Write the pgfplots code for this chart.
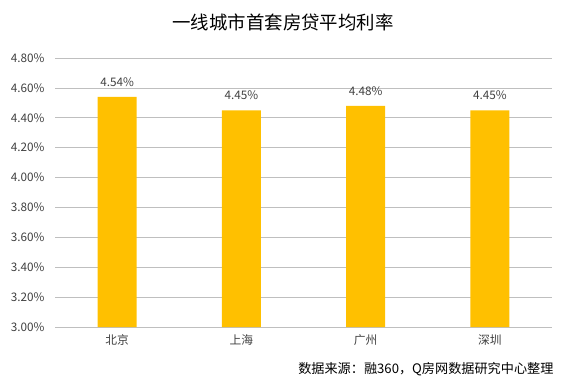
\documentclass[border=0pt]{standalone}
\usepackage{pgfplots}
\pgfplotsset{compat=1.18}
\usepackage{fontspec}
\setmainfont{Noto Sans CJK SC}
\definecolor{bar}{HTML}{FFC000}
\definecolor{grid}{HTML}{D9D9D9}
\definecolor{txt}{HTML}{404040}
\begin{document}
\begin{tikzpicture}
\path[use as bounding box] (0,0) rectangle (566bp,384bp);
\begin{axis}[
  at={(55bp,57bp)}, anchor=south west,
  scale only axis, width=497bp, height=269bp,
  xmin=-0.5, xmax=3.5, ymin=3, ymax=4.8,
  xtick={0,1,2,3}, xticklabels={北京,上海,广州,深圳},
  ytick={3,3.2,3.4,3.6,3.8,4.0,4.2,4.4,4.6,4.8},
  yticklabels={3.00\%,3.20\%,3.40\%,3.60\%,3.80\%,4.00\%,4.20\%,4.40\%,4.60\%,4.80\%},
  ymajorgrids, xmajorgrids=false, grid style={grid, line width=0.75pt},
  axis line style={draw=none},
  tick style={draw=none},
  major tick length=0pt,
  tick label style={font=\fontsize{11.8}{13}\selectfont, text=txt},
  yticklabel style={xshift=-7bp},
  xticklabel style={yshift=-4bp},
  ybar, bar width=39bp,
  nodes near coords, point meta=explicit symbolic,
  every node near coord/.append style={font=\fontsize{11.8}{13}\selectfont, text=txt, yshift=7bp},
  clip=false,
]
\addplot[fill=bar, draw=none] coordinates {(0,4.54)[4.54\%] (1,4.45)[4.45\%] (2,4.48)[4.48\%] (3,4.45)[4.45\%]};
\end{axis}
\node[font=\fontsize{18.5}{21}\selectfont, text=black] at (283bp,362bp) {一线城市首套房贷平均利率};
\node[font=\fontsize{13.2}{15}\selectfont, text=black, anchor=east] at (557bp,15bp) {数据来源：融360，Q房网数据研究中心整理};
\end{tikzpicture}
\end{document}
